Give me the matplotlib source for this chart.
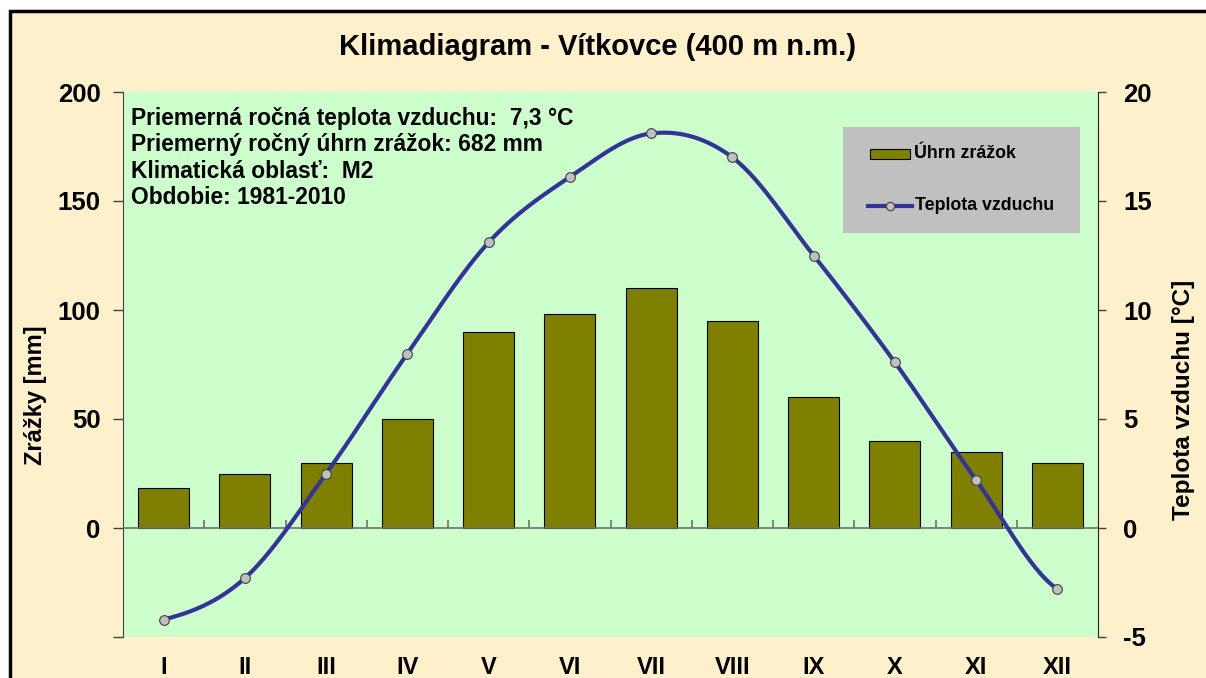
import matplotlib
matplotlib.use("Agg")
from matplotlib import pyplot as plt
from matplotlib.patches import Rectangle
from matplotlib.lines import Line2D
import numpy as np

plt.rcParams["font.family"] = ["Liberation Sans", "DejaVu Sans"]
plt.rcParams["font.weight"] = "bold"
plt.rcParams["axes.labelweight"] = "bold"
plt.rcParams["axes.unicode_minus"] = False

months = ["I", "II", "III", "IV", "V", "VI", "VII", "VIII", "IX", "X", "XI", "XII"]
precip = [18.5, 25, 30, 50, 90, 98, 110, 95, 60, 40, 35, 30]
temp = [-4.2, -2.3, 2.5, 8.0, 13.1, 16.1, 18.1, 17.0, 12.5, 7.6, 2.2, -2.8]

info_lines = ["Priemerná ročná teplota vzduchu:  7,3 \u00b0C",
              "Priemerný ročný úhrn zrážok: 682 mm",
              "Klimatická oblasť:  M2",
              "Obdobie: 1981-2010"]

beige = "#FFF0CC"
green = "#CCFFCC"
olive = "#808000"
blue = "#333399"

W, H = 1206, 678
fig = plt.figure(figsize=(W / 100, H / 100), dpi=100, facecolor="white")

# slide frame
fig.patches.append(Rectangle((10 / W, -0.5), 2, 1.5 - 11 / H, transform=fig.transFigure,
                             facecolor=beige, edgecolor="black", lw=2.5, zorder=-10))

ax = fig.add_axes([123 / W, 1 - 637 / H, (1098 - 123) / W, (637 - 92) / H])
ax.set_facecolor(green)

x = np.arange(1, len(months) + 1)
ax.bar(x, precip, width=0.63, color=olive, edgecolor="black", lw=0.8, zorder=3)

ax.set_xlim(0.5, 12.5)
ax.set_ylim(-50, 200)
ax.set_yticks([-50, 0, 50, 100, 150, 200])
ax.set_yticklabels(["", "0", "50", "100", "150", "200"])
ax.set_xticks(x)
ax.set_xticklabels(months)
ax.tick_params(axis="x", length=0, pad=14, labelsize=17)
ax.tick_params(axis="y", length=7.2, width=1, color="#404040", labelsize=18.5, pad=9)

for s in ["top", "right", "bottom"]:
    ax.spines[s].set_visible(False)
ax.spines["left"].set_color("#404040")

# zero line with category ticks
ax.axhline(0, color="#707070", lw=1.2, zorder=4)
ax.vlines(np.arange(1.5, 12.5, 1), 0, 3.5, color="#707070", lw=1.2, zorder=4)

ax.set_ylabel("Zrážky [mm]", fontsize=17)
ax.yaxis.set_label_coords(-0.078, 0.444)

ax2 = ax.twinx()
ax2.set_ylim(-5, 20)
ax2.set_yticks([-5, 0, 5, 10, 15, 20])
ax2.tick_params(axis="y", length=6, width=1, color="#404040", labelsize=18.5, pad=12)
for s in ["top", "left", "bottom"]:
    ax2.spines[s].set_visible(False)
ax2.spines["right"].set_color("#202020")
ax2.set_ylabel("Teplota vzduchu [\u00b0C]", fontsize=17.5)
ax2.yaxis.set_label_coords(1.076, 0.435)

# smoothed line (Catmull-Rom through the points)
t = np.array(temp)
p = np.concatenate([[t[0]], t, [t[-1]]])
xs, ys = [], []
for i in range(len(t) - 1):
    p0, p1, p2, p3 = p[i], p[i + 1], p[i + 2], p[i + 3]
    u = np.linspace(0, 1, 30)
    yy = 0.5 * ((2 * p1) + (-p0 + p2) * u + (2 * p0 - 5 * p1 + 4 * p2 - p3) * u ** 2
                + (-p0 + 3 * p1 - 3 * p2 + p3) * u ** 3)
    xs.extend(x[i] + u)
    ys.extend(yy)
ax2.plot(xs, ys, color=blue, lw=3, zorder=5, solid_capstyle="round")
ax2.plot(x, temp, "o", ms=7, mfc="#C0C0C0", mec="#404040", mew=0.8, zorder=6)

# info text
for i, line in enumerate(info_lines):
    fig.text(131 / W, 1 - (118 + 26.5 * i) / H, line, fontsize=16.4, va="center", ha="left")

fig.text(598 / W, 1 - 47 / H, "Klimadiagram - Vítkovce (400 m n.m.)", fontsize=21,
         ha="center", va="center")

# legend box
fig.patches.append(Rectangle((843 / W, 1 - 233 / H), (1080 - 843) / W, (233 - 127) / H,
                             transform=fig.transFigure, facecolor="#C0C0C0", edgecolor="none", zorder=10))
fig.patches.append(Rectangle((870 / W, 1 - 159 / H), 40 / W, 10 / H, transform=fig.transFigure,
                             facecolor=olive, edgecolor="black", lw=0.8, zorder=11))
fig.lines.append(Line2D([868 / W, 912 / W], [1 - 206 / H, 1 - 206 / H], transform=fig.transFigure,
                        color=blue, lw=3, zorder=11))
fig.lines.append(Line2D([890 / W], [1 - 206 / H], transform=fig.transFigure, marker="o", ms=6,
                        mfc="#C0C0C0", mec="#404040", mew=0.8, zorder=12))
fig.text(914 / W, 1 - 154 / H, "Úhrn zrážok", fontsize=12.8, va="center", zorder=12)
fig.text(915 / W, 1 - 206 / H, "Teplota vzduchu", fontsize=12.8, va="center", zorder=12)

fig.savefig("out.png", dpi=100, facecolor="white")
